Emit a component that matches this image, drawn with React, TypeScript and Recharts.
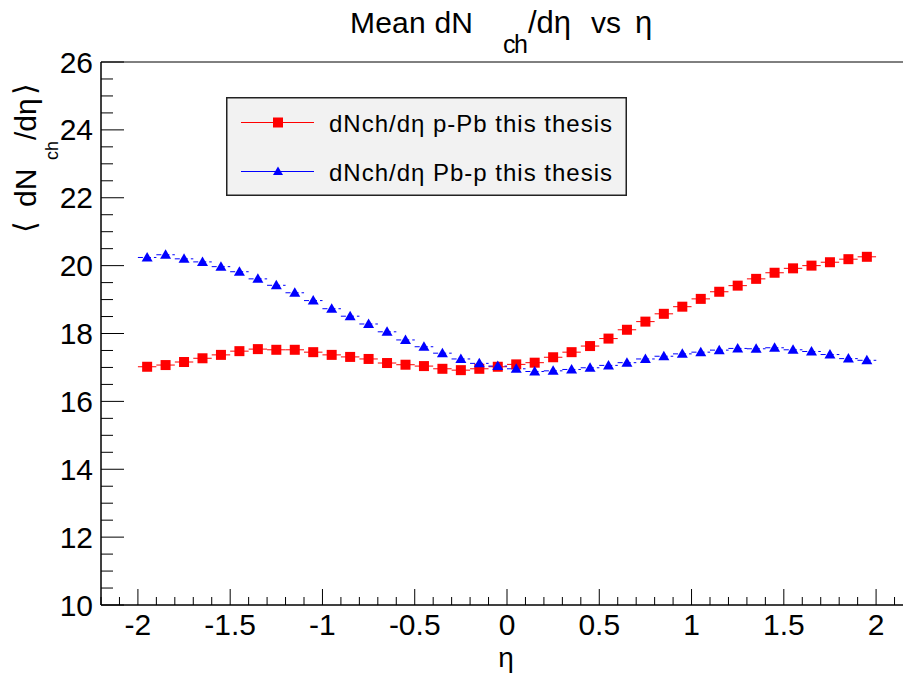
import React from 'react';
import { ScatterChart, Scatter, XAxis, YAxis, ErrorBar, ReferenceArea, Legend } from 'recharts';

const etaValues = [
  -1.95, -1.85, -1.75, -1.65, -1.55, -1.45, -1.35, -1.25, -1.15, -1.05,
  -0.95, -0.85, -0.75, -0.65, -0.55, -0.45, -0.35, -0.25, -0.15, -0.05,
  0.05, 0.15, 0.25, 0.35, 0.45, 0.55, 0.65, 0.75, 0.85, 0.95,
  1.05, 1.15, 1.25, 1.35, 1.45, 1.55, 1.65, 1.75, 1.85, 1.95,
];

const pPbValues = [
  17.02, 17.07, 17.16, 17.27, 17.37, 17.48, 17.54, 17.52, 17.52, 17.45,
  17.37, 17.31, 17.25, 17.13, 17.08, 17.04, 16.96, 16.92, 16.96, 17.02,
  17.09, 17.14, 17.3, 17.45, 17.63, 17.85, 18.11, 18.35, 18.58, 18.79,
  19.02, 19.23, 19.41, 19.61, 19.79, 19.92, 20.0, 20.1, 20.19, 20.26,
];

const PbpValues = [
  20.24, 20.32, 20.2, 20.11, 19.97, 19.82, 19.61, 19.42, 19.2, 18.97,
  18.73, 18.51, 18.28, 18.05, 17.81, 17.61, 17.42, 17.25, 17.12, 17.04,
  16.96, 16.88, 16.9, 16.94, 16.99, 17.06, 17.14, 17.25, 17.33, 17.4,
  17.45, 17.51, 17.56, 17.55, 17.58, 17.52, 17.47, 17.38, 17.26, 17.21,
];

const binHalfWidth = 0.05;
const xMajorTicks = [-2, -1.5, -1, -0.5, 0, 0.5, 1, 1.5, 2];
const yMajorTicks = [10, 12, 14, 16, 18, 20, 22, 24, 26];
const xDomain: [number, number] = [-2.2, 2.2];
const yDomain: [number, number] = [10, 26];
const seriesNames = ['dNch/d\u03b7 p-Pb this thesis', 'dNch/d\u03b7 Pb-p this thesis'];
const seriesColors = ['#ff0000', '#0000ff'];
const titleParts = ['Mean dN', 'ch', '/d\u03b7', 'vs', '\u03b7'];
const xTitle = '\u03b7';
const yTitleParts = ['\u27e8', 'dN', 'ch', '/d\u03b7', '\u27e9'];

const FONT = '"Liberation Sans", Arial, Helvetica, sans-serif';

const makeTicks = (lo: number, hi: number, step: number) => {
  const out: number[] = [];
  const n = Math.round((hi - lo) / step);
  for (let i = 0; i <= n; i++) out.push(Math.round((lo + i * step) * 1000) / 1000);
  return out;
};
const xAllTicks = makeTicks(xDomain[0], xDomain[1], 0.1);
const yAllTicks = makeTicks(yDomain[0], yDomain[1], 0.5);

const isMajor = (list: number[], v: number) => list.some((t) => Math.abs(t - v) < 1e-6);

const pPbData = etaValues.map((x, i) => ({ x, y: pPbValues[i], xerr: binHalfWidth }));
const PbpData = etaValues.map((x, i) => ({ x, y: PbpValues[i], xerr: binHalfWidth }));

const XTick = (props: any) => {
  const { x, y, payload } = props;
  const v = payload.value;
  const major = isMajor(xMajorTicks, v);
  return (
    <g>
      <line x1={x} x2={x} y1={y} y2={y - (major ? 16 : 8)} stroke="#000" strokeWidth={1} />
      {major && (
        <text x={x} y={y + 30} textAnchor="middle" fontFamily={FONT} fontSize={30} fill="#000">
          {String(v)}
        </text>
      )}
    </g>
  );
};

const YTick = (props: any) => {
  const { x, y, payload } = props;
  const v = payload.value;
  const major = isMajor(yMajorTicks, v);
  return (
    <g>
      <line x1={x} x2={x + (major ? 23 : 12)} y1={y} y2={y} stroke="#000" strokeWidth={1} />
      {major && (
        <text x={x - 8} y={y + 10.5} textAnchor="end" fontFamily={FONT} fontSize={30} fill="#000">
          {String(v)}
        </text>
      )}
    </g>
  );
};

const SquareMarker = (props: any) => {
  const { cx, cy } = props;
  return <rect x={cx - 5} y={cy - 5} width={10} height={10} fill={seriesColors[0]} />;
};

const TriangleMarker = (props: any) => {
  const { cx, cy } = props;
  return <path d={`M${cx},${cy - 5.5} L${cx + 5.5},${cy + 4} L${cx - 5.5},${cy + 4} Z`} fill={seriesColors[1]} />;
};

const LegendBox = () => (
  <svg width={401} height={99} style={{ display: 'block' }}>
    <rect x={0.75} y={0.75} width={399.5} height={97.5} fill="#f2f2f2" stroke="#222" strokeWidth={1.5} />
    <line x1={15} x2={88} y1={25.5} y2={25.5} stroke={seriesColors[0]} strokeWidth={1} />
    <rect x={47} y={20.5} width={10} height={10} fill={seriesColors[0]} />
    <text x={103} y={34.5} fontFamily={FONT} fontSize={24} fill="#000" textLength={283}>
      {seriesNames[0]}
    </text>
    <line x1={15} x2={88} y1={74.5} y2={74.5} stroke={seriesColors[1]} strokeWidth={1} />
    <path d="M52,69.5 L57,78 L47,78 Z" fill={seriesColors[1]} />
    <text x={103} y={83.5} fontFamily={FONT} fontSize={24} fill="#000" textLength={283}>
      {seriesNames[1]}
    </text>
  </svg>
);

export default function App() {
  return (
    <div style={{ position: 'absolute', left: 0, top: 0, width: 903, height: 673, overflow: 'hidden', background: '#fff' }}>
      <ScatterChart width={913} height={673} margin={{ top: 62, right: 0, bottom: 0, left: 0 }}>
        <XAxis
          type="number"
          dataKey="x"
          domain={xDomain}
          ticks={xAllTicks}
          interval={0}
          allowDataOverflow
          height={68}
          tickSize={0}
          tickMargin={0}
          tickLine={false}
          axisLine={{ stroke: '#000', strokeWidth: 1 }}
          tick={<XTick />}
        />
        <YAxis
          type="number"
          dataKey="y"
          domain={yDomain}
          ticks={yAllTicks}
          interval={0}
          allowDataOverflow
          width={101}
          tickSize={0}
          tickMargin={0}
          tickLine={false}
          axisLine={{ stroke: '#000', strokeWidth: 1 }}
          tick={<YTick />}
        />
        <ReferenceArea x1={xDomain[0]} x2={xDomain[1]} y1={yDomain[0]} y2={yDomain[1]} fill="none" stroke="#000" strokeWidth={1} fillOpacity={0} />
        <Legend
          layout="horizontal"
          verticalAlign="middle"
          align="center"
          wrapperStyle={{ left: 226, top: 97, width: 401, height: 99 }}
          content={() => <LegendBox />}
        />
        <Scatter name={seriesNames[0]} data={pPbData} shape={<SquareMarker />} isAnimationActive={false}>
          <ErrorBar dataKey="xerr" direction="x" width={0} stroke={seriesColors[0]} strokeWidth={1} isAnimationActive={false} />
        </Scatter>
        <Scatter name={seriesNames[1]} data={PbpData} shape={<TriangleMarker />} isAnimationActive={false}>
          <ErrorBar dataKey="xerr" direction="x" width={0} stroke={seriesColors[1]} strokeWidth={1} strokeDasharray="5 3" isAnimationActive={false} />
        </Scatter>
      </ScatterChart>
      <svg width={903} height={673} style={{ position: 'absolute', left: 0, top: 0, pointerEvents: 'none' }}>
        <g fontFamily={FONT} fill="#000">
          <text x={350} y={33} fontSize={30} textLength={123}>{titleParts[0]}</text>
          <text x={503} y={53} fontSize={25} textLength={25}>{titleParts[1]}</text>
          <text x={528} y={33} fontSize={31}>{titleParts[2]}</text>
          <text x={591} y={33} fontSize={30}>{titleParts[3]}</text>
          <text x={635} y={33} fontSize={31}>{titleParts[4]}</text>
          <text x={506} y={667} fontSize={28} textAnchor="middle">{xTitle}</text>
          <g transform="translate(36,233) rotate(-90)">
            <text x={0} y={-1} fontSize={30} fontWeight={300}>{yTitleParts[0]}</text>
            <text x={26} y={0} fontSize={30}>{yTitleParts[1]}</text>
            <text x={73} y={22} fontSize={18}>{yTitleParts[2]}</text>
            <text x={93} y={0} fontSize={30}>{yTitleParts[3]}</text>
            <text x={138} y={-1} fontSize={30} fontWeight={300}>{yTitleParts[4]}</text>
          </g>
        </g>
      </svg>
    </div>
  );
}
